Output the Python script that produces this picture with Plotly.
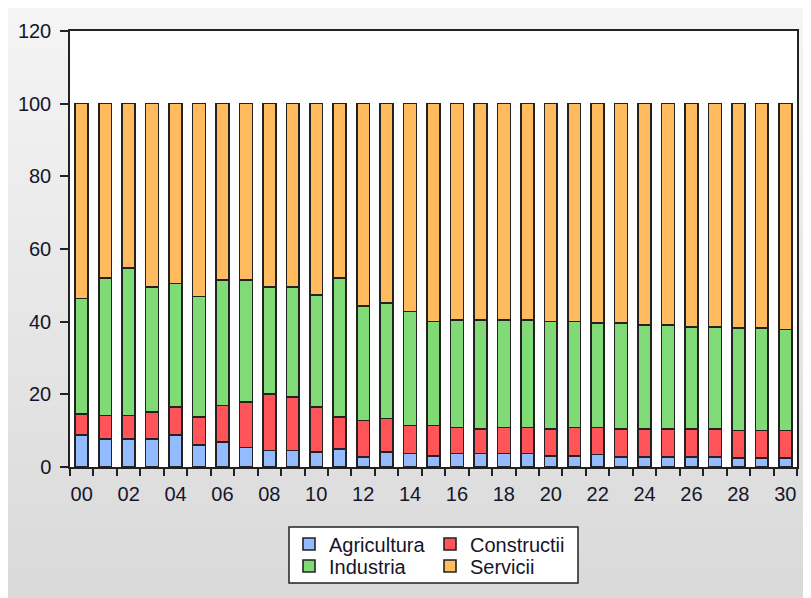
import plotly.graph_objects as go

years = [f"{i:02d}" for i in range(31)]
tick_labels = [y if i % 2 == 0 else "" for i, y in enumerate(years)]

agricultura = [8.8, 7.7, 7.7, 7.7, 8.8, 6.0, 6.8, 5.4, 4.5, 4.5, 4.1, 5.0, 2.7, 4.1, 3.7, 3.1,
               3.7, 3.7, 3.7, 3.7, 3.1, 3.1, 3.4, 2.7, 2.7, 2.7, 2.7, 2.7, 2.4, 2.4, 2.4]
constructii = [5.8, 6.5, 6.5, 7.4, 7.7, 7.7, 10.1, 12.5, 15.6, 14.8, 12.4, 8.7, 10.1, 9.2, 7.7, 8.3,
               7.2, 6.8, 7.2, 7.2, 7.4, 7.8, 7.5, 7.8, 7.8, 7.8, 7.8, 7.8, 7.7, 7.7, 7.7]
industria = [31.8, 37.8, 40.6, 34.5, 34.0, 33.2, 34.5, 33.5, 29.5, 30.3, 30.8, 38.3, 31.5, 31.9, 31.4, 28.6,
             29.6, 30.0, 29.6, 29.6, 29.5, 29.1, 28.7, 29.1, 28.6, 28.6, 28.1, 28.1, 28.1, 28.1, 27.7]
servicii = [53.6, 48.0, 45.2, 50.4, 49.5, 53.1, 48.6, 48.6, 50.4, 50.4, 52.7, 48.0, 55.7, 54.8, 57.2, 60.0,
            59.5, 59.5, 59.5, 59.5, 60.0, 60.0, 60.4, 60.4, 60.9, 60.9, 61.4, 61.4, 61.8, 61.8, 62.2]

# one legend per row so the rows can sit closer than plotly's item height
series = [
    ("Agricultura", agricultura, "#94bbff", "legend"),
    ("Constructii", constructii, "#ff5558", "legend"),
    ("Industria", industria, "#80da75", "legend2"),
    ("Servicii", servicii, "#ffbb5e", "legend2"),
]

fig = go.Figure()
for name, vals, color, leg in series:
    fig.add_trace(go.Bar(
        x=years, y=vals, name=name, legend=leg,
        marker=dict(color=color, line=dict(color="#222222", width=1.6)),
    ))

# the page puts the figure 8px in from the top-left corner
OFF = 8
W, H = 803, 590
L, R, T, B = 62, 14, 23, 131
pw, ph = W - L - R, H - T - B


def px_x(p):  # screen pixel -> paper x
    return (p - OFF - L) / pw


def px_y(p):  # screen pixel -> paper y
    return (H - B - (p - OFF)) / ph


shapes = []
# gray gradient background
n = 40
top, bot = OFF, OFF + H
for i in range(n):
    y0 = top + (bot - top) * i / n
    y1 = top + (bot - top) * (i + 1) / n
    c = int(245 - (245 - 218) * i / (n - 1))
    shapes.append(dict(type="rect", xref="paper", yref="paper", layer="below",
                       x0=px_x(OFF - 1), x1=px_x(OFF + W + 1), y0=px_y(y1 + 0.5), y1=px_y(y0 - 0.5),
                       fillcolor=f"rgb({c},{c},{c})", line=dict(width=0)))
# white plot area
shapes.append(dict(type="rect", xref="paper", yref="paper", layer="below",
                   x0=0, x1=1, y0=0, y1=1, fillcolor="white", line=dict(width=0)))
# legend box
shapes.append(dict(type="rect", xref="paper", yref="paper", layer="below",
                   x0=px_x(289), x1=px_x(578), y0=px_y(583), y1=px_y(527),
                   fillcolor="white", line=dict(color="#222222", width=1.5)))

font = dict(family="Liberation Sans, Arial, sans-serif", size=20, color="#15152a")
leg_common = dict(orientation="h", xanchor="left", yanchor="middle", entrywidth=96,
                  bgcolor="rgba(0,0,0,0)", borderwidth=0, font=font, traceorder="normal")

fig.update_layout(
    width=W, height=H,
    margin=dict(l=L, r=R, t=T, b=B),
    barmode="stack",
    bargap=0.45,
    paper_bgcolor="#e9e9e9",
    plot_bgcolor="rgba(0,0,0,0)",
    font=font,
    shapes=shapes,
    legend=dict(x=px_x(289), y=px_y(544), **leg_common),
    legend2=dict(x=px_x(289), y=px_y(566), **leg_common),
    xaxis=dict(
        type="category", tickmode="array", tickvals=years, ticktext=tick_labels,
        tickson="boundaries", ticks="outside", ticklen=7, tickwidth=1.5, tickcolor="#222222",
        showline=True, linecolor="#222222", linewidth=1.5, mirror=True, tickangle=0,
        showgrid=False, range=[-0.5, 30.5], automargin=False, ticklabelstandoff=8,
    ),
    yaxis=dict(
        range=[0, 120], dtick=20, ticks="outside", ticklen=8, tickwidth=1.5, tickcolor="#222222",
        showline=True, linecolor="#222222", linewidth=1.5, mirror=True,
        showgrid=False, zeroline=False, automargin=False, ticklabelstandoff=5,
    ),
)

fig.write_html("out.html")
